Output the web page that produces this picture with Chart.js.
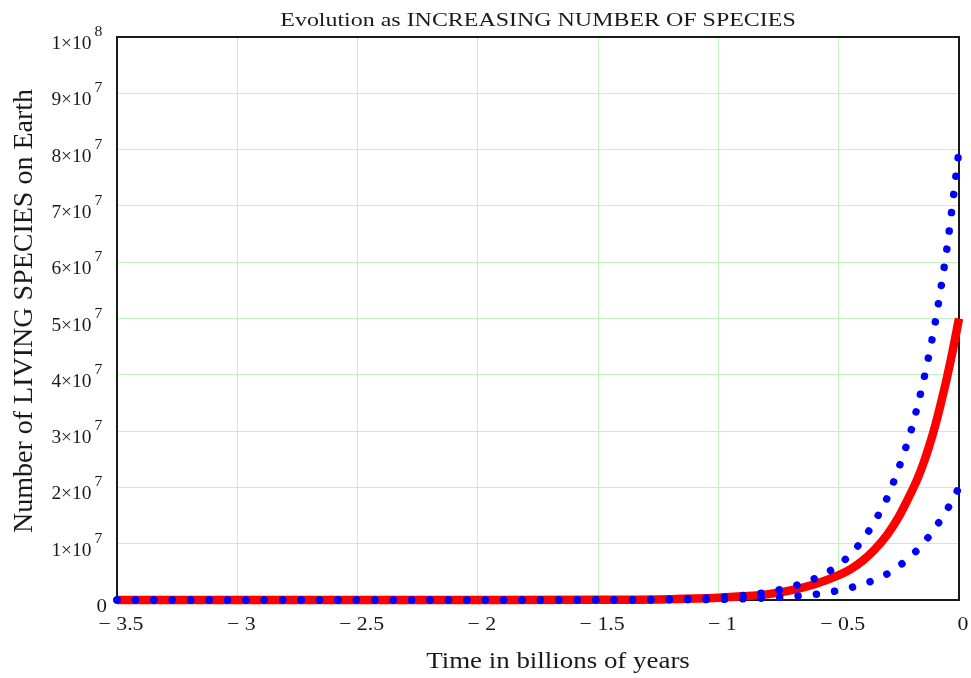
<!DOCTYPE html>
<html>
<head>
<meta charset="utf-8">
<script src="https://cdn.jsdelivr.net/npm/chart.js@4/dist/chart.umd.min.js"></script>
<style>
html,body{margin:0;padding:0;background:#fff;}
#wrap{width:971px;height:678px;}
</style>
</head>
<body>
<div id="wrap"><canvas id="c" width="971" height="678"></canvas></div>
<script>
// ---- data (values in number of species) ----
const chartTitle = 'Evolution as INCREASING NUMBER OF SPECIES';
const xTitle = 'Time in billions of years';
const yTitle = 'Number of LIVING SPECIES on Earth';

const xTickValues = [-3.5, -3, -2.5, -2, -1.5, -1, -0.5, 0];
const xTickLabels = ['\u2212 3.5', '\u2212 3', '\u2212 2.5', '\u2212 2', '\u2212 1.5', '\u2212 1', '\u2212 0.5', '0'];
const yTickValues = [0, 1e7, 2e7, 3e7, 4e7, 5e7, 6e7, 7e7, 8e7, 9e7, 1e8];
const yTickMantissa = ['0', '1', '2', '3', '4', '5', '6', '7', '8', '9', '1'];
const yTickExponent = ['', '7', '7', '7', '7', '7', '7', '7', '7', '7', '8'];

// mean value (red) curve
const timeMean = [-3.5, -3, -2.5, -2, -1.5, -1.2, -1.0, -0.9, -0.8, -0.7, -0.6, -0.5, -0.45, -0.4, -0.35, -0.3, -0.25, -0.2, -0.175, -0.15, -0.125, -0.1, -0.075, -0.05, -0.025, 0];
const speciesMean = [0, 0, 0, 0, 0.04e6, 0.15e6, 0.4e6, 0.65e6, 1.0e6, 1.7e6, 2.8e6, 4.4e6, 5.5e6, 7.0e6, 9.0e6, 11.5e6, 14.8e6, 19.0e6, 21.3e6, 24.0e6, 27.2e6, 30.8e6, 35.0e6, 39.5e6, 44.5e6, 50.0e6];

// upper standard deviation curve (blue dots)
const timeUpper = [-3.5, -3, -2.5, -2, -1.5, -1.2, -1.0, -0.9, -0.8, -0.7, -0.6, -0.5, -0.45, -0.4, -0.35, -0.3, -0.25, -0.2, -0.175, -0.15, -0.125, -0.1, -0.075, -0.05, -0.025, 0];
const speciesUpper = [0, 0, 0, 0, 0.03e6, 0.15e6, 0.45e6, 0.8e6, 1.35e6, 2.3e6, 3.8e6, 6.2e6, 8.2e6, 10.7e6, 14.0e6, 18.0e6, 23.5e6, 30.0e6, 34.0e6, 38.5e6, 43.5e6, 49.0e6, 55.5e6, 62.5e6, 71.0e6, 80.0e6];

// lower standard deviation curve (blue dots)
const timeLower = [-3.5, -3, -2.5, -2, -1.5, -1.2, -1.0, -0.9, -0.8, -0.7, -0.6, -0.5, -0.45, -0.4, -0.35, -0.3, -0.25, -0.2, -0.175, -0.15, -0.125, -0.1, -0.075, -0.05, -0.025, 0];
const speciesLower = [0, 0, 0, 0, 0, 0.03e6, 0.1e6, 0.2e6, 0.35e6, 0.6e6, 1.0e6, 1.7e6, 2.2e6, 2.8e6, 3.6e6, 4.6e6, 6.0e6, 7.8e6, 8.8e6, 10.0e6, 11.3e6, 12.8e6, 14.3e6, 16.0e6, 17.9e6, 20.0e6];

const toPts = (xs, ys) => xs.map((x, i) => ({x: x, y: ys[i]}));

const FONT = "'Liberation Serif', 'Times New Roman', serif";
const INK = '#1a1a1a';

function stretchedText(ctx, text, x, y, size, sx, align, baseline) {
  ctx.save();
  ctx.font = size + 'px ' + FONT;
  ctx.textAlign = align;
  ctx.textBaseline = baseline;
  ctx.translate(x, y);
  ctx.scale(sx, 1);
  ctx.fillText(text, 0, 0);
  ctx.restore();
}

const textPlugin = {
  id: 'textPlugin',
  beforeDatasetsDraw(chart) {
    const ctx = chart.ctx, a = chart.chartArea;
    ctx.save();
    ctx.strokeStyle = INK;
    ctx.lineWidth = 2;
    ctx.strokeRect(a.left, a.top, a.right - a.left, a.bottom - a.top);
    ctx.restore();
  },
  afterDraw(chart) {
    const ctx = chart.ctx, a = chart.chartArea;
    const xs = chart.scales.x, ys = chart.scales.y;
    ctx.save();
    ctx.fillStyle = INK;
    // chart title
    stretchedText(ctx, chartTitle, (a.left + a.right) / 2, 26, 19, 1.26, 'center', 'alphabetic');
    // x axis title
    stretchedText(ctx, xTitle, (a.left + a.right) / 2 + 20, 668, 23, 1.17, 'center', 'alphabetic');
    // y axis title (rotated)
    ctx.save();
    ctx.translate(32, 533);
    ctx.rotate(-Math.PI / 2);
    ctx.font = '28px ' + FONT;
    ctx.textAlign = 'left';
    ctx.textBaseline = 'alphabetic';
    ctx.fillText(yTitle, 0, 0);
    ctx.restore();
    // x tick labels
    xTickValues.forEach((v, i) => {
      const px = xs.getPixelForValue(v) + 4;
      stretchedText(ctx, xTickLabels[i], px, 630, 19, 1.15, 'center', 'alphabetic');
    });
    // y tick labels with superscripts
    yTickValues.forEach((v, i) => {
      const py = ys.getPixelForValue(v);
      const exp = yTickExponent[i];
      if (!exp) {
        stretchedText(ctx, yTickMantissa[i], 107, py + 12, 19, 1.1, 'right', 'alphabetic');
      } else {
        stretchedText(ctx, exp, 94.5, py - 1, 15, 1.05, 'left', 'alphabetic');
        stretchedText(ctx, yTickMantissa[i] + '\u00d710', 91.5, py + 12, 18, 1.08, 'right', 'alphabetic');
      }
    });
    ctx.restore();
  }
};

const blueDots = {
  showLine: true, pointRadius: 0, borderColor: '#0000ff', borderWidth: 7.5,
  borderDash: [0.01, 18.4], borderCapStyle: 'round',
  cubicInterpolationMode: 'monotone', clip: false, order: 0
};

new Chart(document.getElementById('c'), {
  type: 'scatter',
  data: {
    datasets: [
      Object.assign({label: 'Mean + standard deviation', data: toPts(timeUpper, speciesUpper)}, blueDots),
      Object.assign({label: 'Mean - standard deviation', data: toPts(timeLower, speciesLower)}, blueDots),
      {
        label: 'Mean value',
        data: toPts(timeMean, speciesMean),
        showLine: true, pointRadius: 0, borderColor: '#ff0000', borderWidth: 8.5,
        cubicInterpolationMode: 'monotone', clip: false, order: 1
      }
    ]
  },
  options: {
    responsive: false,
    animation: false,
    layout: {padding: {top: 37, right: 12, left: 0, bottom: 0}},
    plugins: {legend: {display: false}, tooltip: {enabled: false}, title: {display: false}},
    scales: {
      x: {
        type: 'linear', min: -3.5, max: 0,
        afterFit(s) { s.height = 78; },
        afterBuildTicks(s) { s.ticks = xTickValues.map(v => ({value: v})); },
        grid: {color: 'rgb(190,245,190)', lineWidth: 1, drawTicks: false},
        border: {display: false},
        ticks: {display: false}
      },
      y: {
        type: 'linear', min: 0, max: 1e8,
        afterFit(s) { s.width = 117; },
        afterBuildTicks(s) { s.ticks = yTickValues.map(v => ({value: v})); },
        grid: {color: 'rgb(190,245,190)', lineWidth: 1, drawTicks: false},
        border: {display: false},
        ticks: {display: false}
      }
    }
  },
  plugins: [textPlugin]
});
</script>
</body>
</html>
